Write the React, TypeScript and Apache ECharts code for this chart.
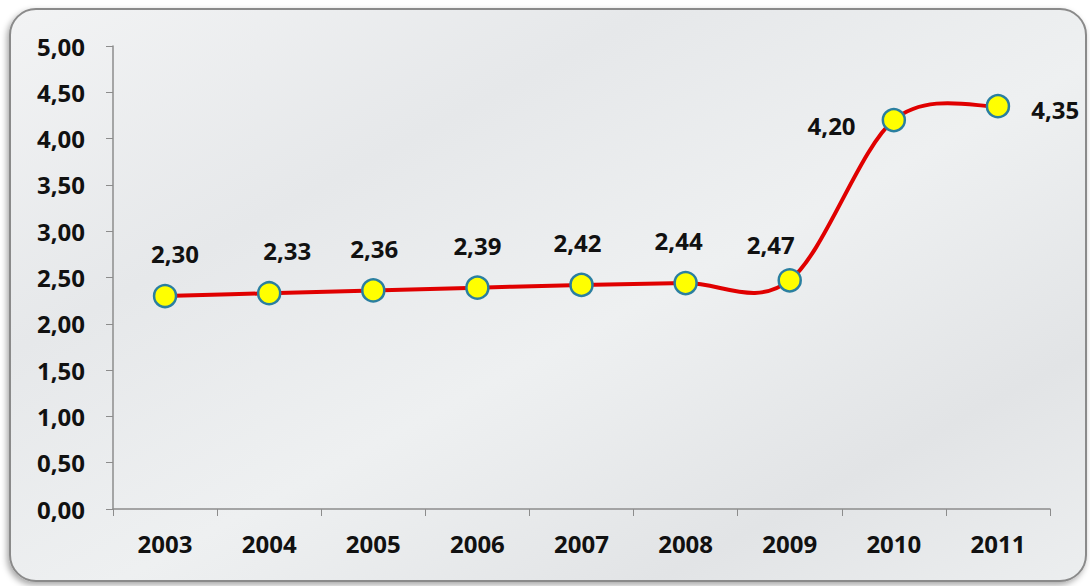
import React, { useEffect, useRef } from "react";
import * as echarts from "echarts";

const years = ["2003", "2004", "2005", "2006", "2007", "2008", "2009", "2010", "2011"];
const values = [2.3, 2.33, 2.36, 2.39, 2.42, 2.44, 2.47, 4.2, 4.35];
const labelPositions = ["top", "top", "top", "top", "top", "top", "top", "left", "right"];

const fmt = (v: number) => v.toFixed(2).replace(".", ",");

const labelTweaks: any[] = [
  { distance: 18, offset: [10, 0] },
  { distance: 18, offset: [18, 0] },
  { distance: 18, offset: [1, 0] },
  { distance: 18, offset: [0, 0] },
  { distance: 18, offset: [-4, 0] },
  { distance: 18, offset: [-7, 0] },
  { distance: 12, offset: [-19, 0] },
  { distance: 26, offset: [0, 5] },
  { distance: 21, offset: [0, 3] },
];

export default function App() {
  const ref = useRef<HTMLDivElement>(null);
  useEffect(() => {
    if (!ref.current) return;
    const chart = echarts.init(ref.current, null, { renderer: "svg" });
    const font = "'Open Sans', 'DejaVu Sans', sans-serif";
    const n = values.length;
    chart.setOption({
      animation: false,
      backgroundColor: "transparent",
      graphic: [
        {
          type: "rect",
          z: -10,
          shape: { x: 10, y: 9, width: 1076, height: 572, r: 26 },
          style: {
            fill: {
              type: "linear",
              x: 0,
              y: 0,
              x2: 1,
              y2: 1,
              colorStops: [
                { offset: 0, color: "#f2f3f4" },
                { offset: 0.3, color: "#e6e8ea" },
                { offset: 0.55, color: "#eef0f1" },
                { offset: 0.8, color: "#e2e4e6" },
                { offset: 1, color: "#eceeef" },
              ],
            },
            stroke: "#8a8a8a",
            lineWidth: 2,
            shadowBlur: 6,
            shadowColor: "rgba(0,0,0,0.35)",
            shadowOffsetX: -2,
            shadowOffsetY: 3,
          },
          silent: true,
        },
      ],
      grid: { left: 113, right: 40, top: 46, bottom: 77 },
      xAxis: {
        type: "category",
        data: years,
        boundaryGap: true,
        axisLine: { lineStyle: { color: "#8c8c8c", width: 1.5 } },
        axisTick: { show: true, alignWithLabel: false, length: 7, lineStyle: { color: "#8c8c8c" } },
        axisLabel: { color: "#111", fontSize: 24, fontWeight: "bold", fontFamily: font, margin: 22 },
      },
      yAxis: {
        type: "value",
        min: 0,
        max: 5,
        interval: 0.5,
        splitLine: { show: false },
        axisLine: { show: true, lineStyle: { color: "#8c8c8c", width: 1.5 } },
        axisTick: { show: true, length: 7, lineStyle: { color: "#8c8c8c" } },
        axisLabel: {
          color: "#111",
          fontSize: 24,
          fontWeight: "bold",
          fontFamily: font,
          margin: 28,
          formatter: (v: number) => fmt(v),
        },
      },
      series: [
        {
          type: "custom",
          data: values.map((v, i) => [i, v]),
          encode: { x: 0, y: 1 },
          z: 2,
          silent: true,
          renderItem: (params: any, api: any) => {
            const i = params.dataIndex;
            if (i >= n - 1) return { type: "group", children: [] };
            const c = (j: number) => {
              const k = Math.max(0, Math.min(n - 1, j));
              return api.coord([k, values[k]]);
            };
            const p0 = c(i - 1);
            const p1 = c(i);
            const p2 = c(i + 1);
            const p3 = c(i + 2);
            const t = 1 / 6;
            return {
              type: "bezierCurve",
              shape: {
                x1: p1[0],
                y1: p1[1],
                x2: p2[0],
                y2: p2[1],
                cpx1: p1[0] + (p2[0] - p0[0]) * t,
                cpy1: p1[1] + (p2[1] - p0[1]) * t,
                cpx2: p2[0] - (p3[0] - p1[0]) * t,
                cpy2: p2[1] - (p3[1] - p1[1]) * t,
              },
              style: { stroke: "#e00000", lineWidth: 4, fill: null, lineCap: "round" },
            };
          },
        },
        {
          type: "line",
          z: 3,
          data: values.map((v, i) => ({
            value: v,
            label: { position: labelPositions[i], ...labelTweaks[i] },
          })),
          symbol: "circle",
          symbolSize: 22,
          lineStyle: { width: 0, opacity: 0 },
          itemStyle: { color: "#ffff00", borderColor: "#2a7fa0", borderWidth: 2.5 },
          label: {
            show: true,
            color: "#111",
            fontSize: 24,
            fontWeight: "bold",
            fontFamily: font,
            formatter: (p: any) => fmt(p.value),
          },
        },
      ],
    });
    return () => chart.dispose();
  }, []);
  return (
    <div
      ref={ref}
      style={{ position: "fixed", left: 0, top: 0, width: 1090, height: 586, background: "#fff" }}
    />
  );
}
